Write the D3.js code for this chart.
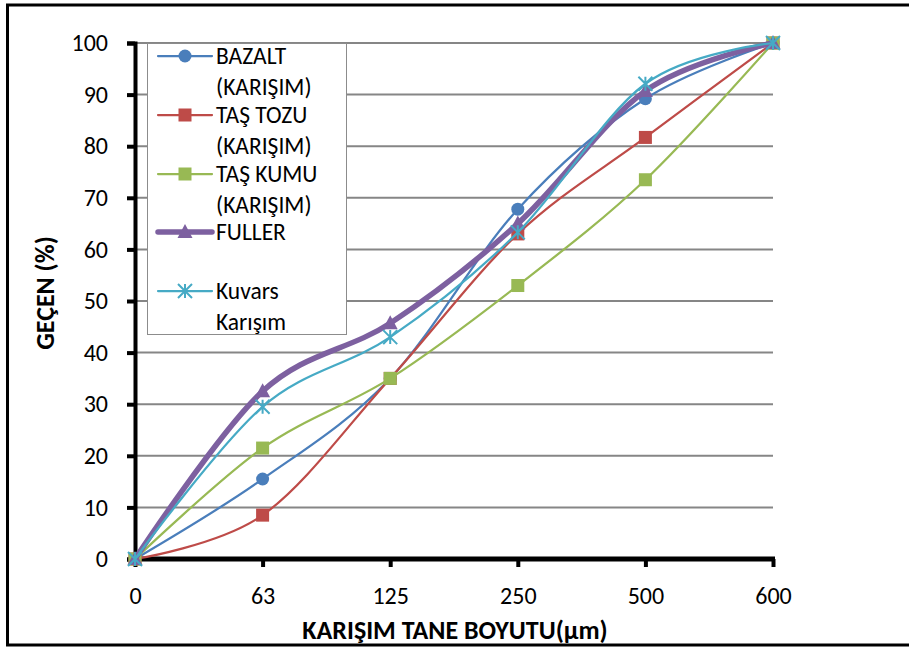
<!DOCTYPE html>
<html>
<head>
<meta charset="utf-8">
<script src="https://cdn.jsdelivr.net/npm/d3@7"></script>
<style>
  body { margin: 0; background: #fff; }
  svg text { font-family: Carlito, Calibri, Lato, sans-serif; fill: #000; }
</style>
</head>
<body>
<div id="chart"></div>
<script>
// ==== data ====
const sizes = ["0", "63", "125", "250", "500", "600"];
const yTicks = [0, 10, 20, 30, 40, 50, 60, 70, 80, 90, 100];

const bazalt  = [0, 15.5, 35, 67.8, 89.2, 100];
const tasTozu = [0, 8.5, 35, 63, 81.7, 100];
const tasKumu = [0, 21.5, 35, 53, 73.5, 100];
const fuller  = [0, 32.5, 45.7, 65, 90.7, 100];
const kuvars  = [0, 29.5, 43, 63.3, 92.1, 100];

const seriesNames = [["BAZALT", "(KARIŞIM)"], ["TAŞ TOZU", "(KARIŞIM)"], ["TAŞ KUMU", "(KARIŞIM)"], ["FULLER", ""], ["Kuvars", "Karışım"]];
const seriesColors = ["#4a7ebb", "#be4b48", "#98b954", "#7d60a0", "#46aac5"];
const seriesMarkers = ["circle", "square", "square", "triangle", "star"];
const seriesWidths = [2.25, 2.25, 2.25, 5.5, 2.25];
const seriesValues = [bazalt, tasTozu, tasKumu, fuller, kuvars];

const W = 909, H = 648;
const plot = { left: 135, right: 773, top: 43, bottom: 559 };
const FONT = "Carlito, Calibri, Lato, sans-serif";

const svg = d3.select("#chart").append("svg")
  .attr("width", W).attr("height", H);

// outer frame (cut at right edge like the source picture)
svg.append("rect")
  .attr("x", 7.5).attr("y", 5).attr("width", 960).attr("height", 640)
  .attr("fill", "#fff").attr("stroke", "#000").attr("stroke-width", 3);

// ==== scales ====
const x = d3.scalePoint().domain(sizes).range([plot.left, plot.right]);
const y = d3.scaleLinear().domain([0, 100]).range([plot.bottom, plot.top]);

// gridlines
svg.append("g")
  .selectAll("line")
  .data(yTicks.filter(d => d > 0))
  .enter().append("line")
    .attr("x1", plot.left).attr("x2", plot.right)
    .attr("y1", d => y(d)).attr("y2", d => y(d))
    .attr("stroke", "#868686").attr("stroke-width", 2);

// ==== axes ====
const yAxis = svg.append("g")
  .attr("transform", `translate(${plot.left},0)`)
  .call(d3.axisLeft(y).tickValues(yTicks).tickSize(8).tickPadding(19));
yAxis.select(".domain").attr("stroke", "#000").attr("stroke-width", 4);
yAxis.selectAll(".tick line").attr("stroke", "#000").attr("stroke-width", 4);
yAxis.selectAll(".tick text")
  .attr("font-size", 24).attr("fill", "#000")
  .style("font-family", FONT);

const xAxis = svg.append("g")
  .attr("transform", `translate(0,${plot.bottom})`)
  .call(d3.axisBottom(x).tickSize(8).tickPadding(20));
xAxis.select(".domain").attr("stroke", "#000").attr("stroke-width", 5)
  .attr("d", `M${plot.left - 2},0H${plot.right + 2}`);
xAxis.selectAll(".tick line").attr("stroke", "#000").attr("stroke-width", 4);
xAxis.selectAll(".tick text")
  .attr("font-size", 24).attr("fill", "#000")
  .style("font-family", FONT);

svg.append("text")
  .attr("x", 455).attr("y", 639)
  .attr("text-anchor", "middle")
  .attr("font-size", 26).attr("font-weight", "bold")
  .text("KARIŞIM TANE BOYUTU(µm)");

svg.append("text")
  .attr("transform", "translate(54,293) rotate(-90)")
  .attr("text-anchor", "middle")
  .attr("font-size", 26).attr("font-weight", "bold")
  .text("GEÇEN (%)");

// ==== markers ====
function drawMarker(g, type, cx, cy, color) {
  if (type === "circle") {
    g.append("circle").attr("cx", cx).attr("cy", cy).attr("r", 6.5).attr("fill", color);
  } else if (type === "square") {
    g.append("rect").attr("x", cx - 6.5).attr("y", cy - 6.5).attr("width", 13).attr("height", 13)
      .attr("fill", color);
  } else if (type === "triangle") {
    g.append("path").attr("d", `M${cx},${cy - 8}L${cx + 7.5},${cy + 6}L${cx - 7.5},${cy + 6}Z`)
      .attr("fill", color);
  } else if (type === "star") {
    const s = 7;
    g.append("path")
      .attr("d", `M${cx},${cy - s}V${cy + s}M${cx - s},${cy - s}L${cx + s},${cy + s}M${cx - s},${cy + s}L${cx + s},${cy - s}`)
      .attr("stroke", color).attr("stroke-width", 2).attr("fill", "none");
  }
}

// ==== series ====
const line = d3.line()
  .x((d, i) => x(sizes[i]))
  .y(d => y(d))
  .curve(d3.curveCardinal.tension(0));

seriesValues.forEach((vals, si) => {
  const g = svg.append("g");
  g.append("path")
    .datum(vals)
    .attr("d", line)
    .attr("fill", "none")
    .attr("stroke", seriesColors[si])
    .attr("stroke-width", seriesWidths[si])
    .attr("stroke-linejoin", "round");
  vals.forEach((v, i) => drawMarker(g, seriesMarkers[si], x(sizes[i]), y(v), seriesColors[si]));
});

// ==== legend ====
const legend = svg.append("g");
legend.append("rect")
  .attr("x", 147.5).attr("y", 43.5).attr("width", 199).attr("height", 291)
  .attr("fill", "#fff").attr("stroke", "#8c8c8c").attr("stroke-width", 1);

const legendRows = [56, 115, 174, 232, 291];
seriesNames.forEach((nm, si) => {
  const ly = legendRows[si];
  legend.append("line")
    .attr("x1", 158).attr("x2", 212).attr("y1", ly).attr("y2", ly)
    .attr("stroke", seriesColors[si]).attr("stroke-width", seriesWidths[si])
    .attr("stroke-linecap", "round");
  drawMarker(legend, seriesMarkers[si], 185, ly, seriesColors[si]);
  legend.append("text")
    .attr("x", 216).attr("y", ly + 8)
    .attr("font-size", 23.5)
    .text(nm[0]);
  if (nm[1]) {
    legend.append("text")
      .attr("x", 216).attr("y", ly + 39)
      .attr("font-size", 23.5)
      .text(nm[1]);
  }
});
</script>
</body>
</html>
